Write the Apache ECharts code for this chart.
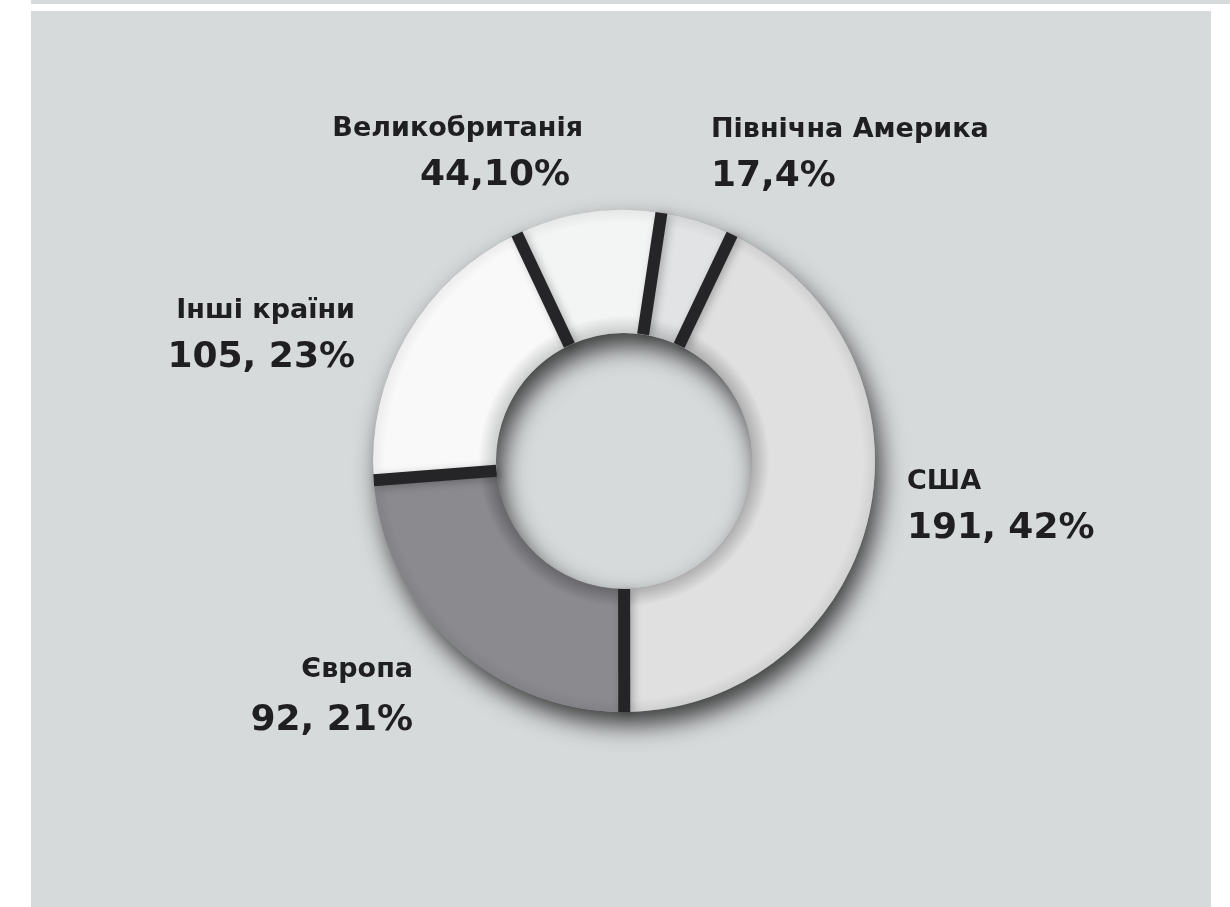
<!DOCTYPE html>
<html>
<head>
<meta charset="utf-8">
<script src="https://cdn.jsdelivr.net/npm/echarts@6/dist/echarts.min.js"></script>
<style>
html,body{margin:0;padding:0;background:#ffffff;width:1230px;height:907px;overflow:hidden;}
#band{position:absolute;left:31px;top:0;width:1199px;height:4px;background:#d7dadb;}
#chart{position:absolute;left:31px;top:11px;width:1180px;height:896px;background:#d7dadb;}
</style>
</head>
<body>
<div id="band"></div>
<div id="chart"></div>
<script>
// ---- data ----
const categories = ['США', 'Європа', 'Інші країни', 'Великобританія', 'Північна Америка'];
// share of the ring (%) occupied by each slice, as drawn
const sliceShares = [42.9, 23.8, 19.2, 9.4, 4.7];
// value text printed beside each slice
const labelValues = ['191, 42%', '92, 21%', '105, 23%', '44,10%', '17,4%'];

// ---- style ----
const CX = 593, CY = 450, R_OUT = 251, R_IN = 128;
const sliceColors = [
  { base: '#e0e0e0', inner: '#b0b0b0', edge: '#d0d0d0' },
  { base: '#8b8a8f', inner: '#68676c', edge: '#828186' },
  { base: '#f9f9f9', inner: '#cdcece', edge: '#ececec' },
  { base: '#f3f4f4', inner: '#cbcccc', edge: '#e6e7e7' },
  { base: '#e2e3e4', inner: '#babbbc', edge: '#d4d5d6' }
];
const labelPlaces = [
  { x: 876, y: 450, align: 'left', style: 'v' },
  { x: 382, y: 638, align: 'right', style: 'vg' },
  { x: 324, y: 279, align: 'right', style: 'v' },
  { x: 552, y: 97, align: 'right', style: 'vs' },
  { x: 680, y: 98, align: 'left', style: 'v' }
];
const FONT = '"DejaVu Sans", "Noto Sans", sans-serif';
const TEXT = '#1f1f22';

function ringFill(c) {
  const f = R_IN / R_OUT;
  return {
    type: 'radial', x: CX, y: CY, r: R_OUT, global: true,
    colorStops: [
      { offset: 0, color: c.inner },
      { offset: f, color: c.inner },
      { offset: f + 0.07, color: c.base },
      { offset: 0.95, color: c.base },
      { offset: 1, color: c.edge }
    ]
  };
}

const total = sliceShares.reduce((a, b) => a + b, 0);
const boundaries = [];
let acc = 0;
sliceShares.forEach(v => { boundaries.push([1, acc]); acc += v; });

const chart = echarts.init(document.getElementById('chart'), null, { renderer: 'canvas' });
const startAngle = 64.5;

const option = {
  animation: false,
  backgroundColor: '#d7dadb',
  polar: { center: [CX, CY], radius: [0, R_OUT] },
  angleAxis: {
    type: 'value', min: 0, max: total, startAngle: startAngle, clockwise: true,
    axisLine: { show: false }, axisTick: { show: false }, axisLabel: { show: false }, splitLine: { show: false }
  },
  radiusAxis: {
    type: 'value', min: 0, max: 1,
    axisLine: { show: false }, axisTick: { show: false }, axisLabel: { show: false }, splitLine: { show: false }
  },
  series: [
    {
      type: 'pie', z: 1, silent: true,
      center: [CX, CY], radius: [R_IN, R_OUT],
      label: { show: false }, labelLine: { show: false },
      data: [{ value: total, name: 'shadow' }],
      itemStyle: {
        color: '#9a9c9d',
        shadowBlur: 24, shadowOffsetX: 6, shadowOffsetY: 13,
        shadowColor: 'rgba(0,0,0,0.72)'
      }
    },
    {
      type: 'pie', z: 2, silent: true,
      center: [CX, CY], radius: [R_IN, R_OUT],
      startAngle: startAngle, clockwise: true,
      avoidLabelOverlap: false,
      labelLine: { show: false },
      data: categories.map((name, i) => ({
        name: name, value: sliceShares[i],
        itemStyle: { color: ringFill(sliceColors[i]) },
        label: {
          formatter: '{n|' + name + '}\n{' + labelPlaces[i].style + '|' + labelValues[i] + '}',
          align: labelPlaces[i].align
        }
      })),
      label: {
        show: true, position: 'outside',
        rich: {
          n: { fontFamily: FONT, fontWeight: 'bold', fontSize: 27, color: TEXT, lineHeight: 42 },
          v: { fontFamily: FONT, fontWeight: 'bold', fontSize: 36, color: TEXT, lineHeight: 52 },
          vg: { fontFamily: FONT, fontWeight: 'bold', fontSize: 36, color: TEXT, lineHeight: 60 },
          vs: { fontFamily: FONT, fontWeight: 'bold', fontSize: 36, color: TEXT, lineHeight: 52, padding: [0, 13, 0, 0] }
        }
      },
      labelLayout: function (params) {
        const p = labelPlaces[params.dataIndex];
        return { x: p.x, y: p.y, align: p.align, verticalAlign: 'top' };
      }
    },
    {
      type: 'custom', z: 3, silent: true,
      coordinateSystem: 'polar',
      data: boundaries,
      renderItem: function (params, api) {
        const a = api.value(1);
        const p1 = api.coord([R_IN / R_OUT, a]);
        const p2 = api.coord([1, a]);
        return {
          type: 'line',
          shape: { x1: p1[0], y1: p1[1], x2: p2[0], y2: p2[1] },
          style: {
            stroke: '#252427', lineWidth: 12, lineCap: 'butt',
            shadowBlur: 8, shadowOffsetX: 3, shadowOffsetY: 2, shadowColor: 'rgba(0,0,0,0.25)'
          }
        };
      }
    }
  ]
};
chart.setOption(option);
</script>
</body>
</html>
